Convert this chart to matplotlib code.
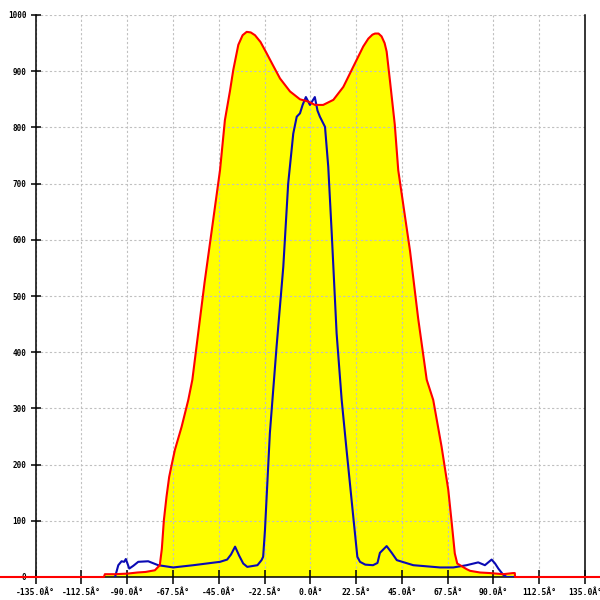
import numpy as np
import matplotlib
matplotlib.use("Agg")
from matplotlib import pyplot as plt

# red / yellow envelope (angle in deg, value)
red_angle = [-180, -101.5, -101, -96, -90, -85, -81, -76.4, -74.8, -74, -73, -72,
             -70.7, -69.4, -68.2, -66.6, -63.3, -60, -58, -52, -48, -44.4, -42,
             -39.5, -37.9, -35.4, -33.3, -31.3, -29.3, -27.2, -24.5, -21.5, -18,
             -14.9, -10, -5.1, -1, 2.3, 6.3, 11.3, 16.2, 21.1, 26, 28.5, 30.5,
             31.8, 33.5, 35, 36.5, 37.5, 39.1, 41.5, 43.2, 49, 53,
             57.2, 60.4, 64.5, 67.8, 69.5, 71, 72.2, 76.8, 78.5, 83.4, 88.3,
             94.8, 99.7, 100.5, 100.6, 180]
red_value = [0, 0, 5, 5, 6, 8, 9, 12, 18, 21, 50, 101,
             143, 178, 199, 226, 267, 315, 351, 524, 629, 724, 813,
             865, 902, 947, 964, 970, 969, 964, 952, 932, 908,
             887, 864, 850, 846, 840, 840, 849, 872, 908, 944, 958, 965,
             967, 967, 962, 950, 935, 884, 805, 724, 580, 460,
             351, 315, 232, 155, 96, 42, 24, 14, 11, 8, 7,
             5, 7, 7, 0, 0]

# blue curve
blue_angle = [-96, -94.4, -92.8, -91.5, -90.7, -89, -87, -84.6, -79.7, -74.8,
              -67.4, -57.5, -44.4, -40.9, -39, -37, -35, -33, -31, -26, -24,
              -23.2, -22.3, -19.9, -16.6, -13.3, -10.9, -8.4, -6.7, -5.1, -3.8,
              -2.2, -0.2, 2.2, 3.5, 4.7, 7.2, 8.8, 10.5, 12.9, 15.4, 17.8, 21.1,
              23.1, 24.4, 27, 30.8, 33, 34.2, 37.5, 40, 42.5, 50.6, 63.7, 70.3,
              76.8, 82.5, 85.8, 89.1, 90.8, 92.4, 94.8, 96.5, 100.5]
blue_value = [0, 21, 28, 27, 32, 15, 20, 27, 28, 21,
              17, 21, 27, 31, 40, 54, 38, 24, 18, 21, 30,
              36, 84, 256, 410, 552, 700, 789, 819, 825, 840,
              854, 840, 854, 830, 819, 801, 730, 612, 434, 315, 226, 107,
              36, 27, 22, 21, 25, 43, 55, 43, 30, 21, 17, 17,
              21, 26, 21, 31, 24, 15, 4, 0, 0]

x_ticks = np.arange(-135, 135.1, 22.5)
y_ticks = np.arange(0, 1001, 100)

fig = plt.figure(figsize=(6, 6), dpi=100)
ax = fig.add_axes([35.7 / 600, 23 / 600, (585 - 35.7) / 600, (577 - 15) / 600])

ax.fill_between(red_angle, red_value, 0, color="#ffff00", lw=0, zorder=1)
ax.plot(blue_angle, blue_value, color="#0a0ab4", lw=1.5, zorder=3)
ax.plot(red_angle, red_value, color="#ff0000", lw=1.5, zorder=4, clip_on=False)

ax.set_xlim(-135, 135)
ax.set_ylim(0, 1000)
ax.set_xticks(x_ticks)
ax.set_xticklabels([f"{v:.1f}Â°" for v in x_ticks])
ax.set_yticks(y_ticks)
ax.set_yticklabels([str(v) for v in y_ticks])

ax.grid(True, color="#c0c0c0", lw=0.8, linestyle=(0, (2, 2)))
ax.set_axisbelow("line")

ax.spines["top"].set_visible(False)
for s in ["left", "right", "bottom"]:
    ax.spines[s].set_color("black")
    ax.spines[s].set_linewidth(1.1)

ax.tick_params(axis="x", direction="inout", length=9.5, width=1.1, pad=3,
               labelsize=5.8, colors="black")
ax.tick_params(axis="y", direction="inout", length=6.5, width=1.1, pad=3.5,
               labelsize=5.5, colors="black")
for lab in ax.get_xticklabels() + ax.get_yticklabels():
    lab.set_fontfamily("DejaVu Sans Mono")
    lab.set_fontweight("bold")

fig.savefig("out.png", dpi=100)
